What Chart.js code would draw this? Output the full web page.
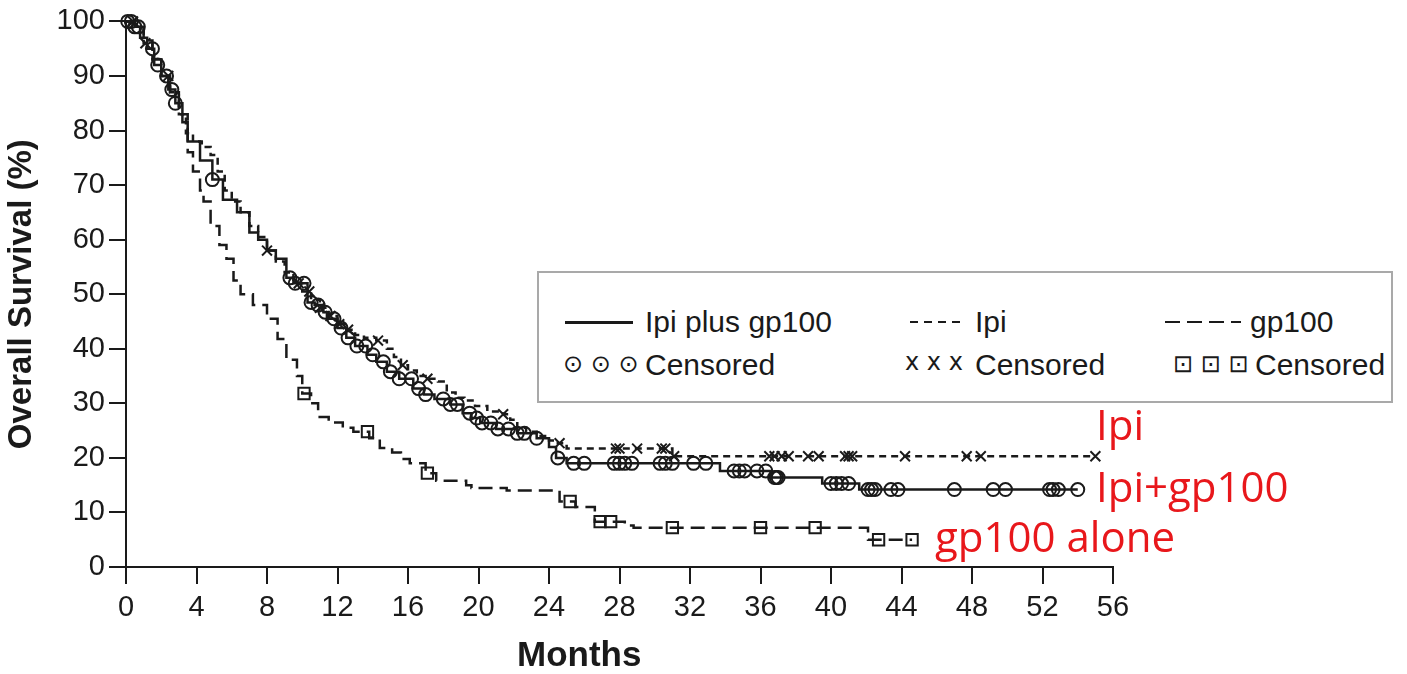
<!DOCTYPE html>
<html>
<head>
<meta charset="utf-8">
<script src="https://cdn.jsdelivr.net/npm/chart.js@4.4.1/dist/chart.umd.min.js"></script>
<style>
  body { margin: 0; background: #fff; }
  #wrap { position: relative; width: 1407px; height: 674px; font-family: "Liberation Sans", Arial, sans-serif; color: #1a1a1a; }
  #km { position: absolute; left: 0; top: 0; }
  .legend { position: absolute; left: 537px; top: 271px; width: 856px; height: 132px; box-sizing: border-box;
            border: 2px solid #a9a9a9; background: #fff; }
  .lt { position: absolute; font-size: 30px; line-height: 30px; white-space: nowrap; }
  .sym { position: absolute; font-size: 24px; line-height: 24px; white-space: nowrap; font-family: "DejaVu Sans", sans-serif; }
  .ln { position: absolute; height: 2px; }
  .note { position: absolute; font-family: "Open Sans", sans-serif; font-size: 42px; line-height: 42px; color: #e8171b; white-space: nowrap; }
  #xtitle { position: absolute; left: 517px; top: 636px; font-size: 35px; font-weight: bold; line-height: 35px; }
</style>
</head>
<body>
<div id="wrap">
  <canvas id="km" width="1407" height="674"></canvas>

  <div class="legend">
    <div class="ln" style="left:26px; top:48px; width:68px; background:#1a1a1a; height:2.5px;"></div>
    <div class="lt" style="left:106px; top:34px;">Ipi plus gp100</div>
    <div class="ln" style="left:371px; top:48px; width:56px; background:repeating-linear-gradient(90deg,#1a1a1a 0 8px,transparent 8px 14px);"></div>
    <div class="lt" style="left:436px; top:34px;">Ipi</div>
    <div class="ln" style="left:626px; top:48px; width:76px; background:repeating-linear-gradient(90deg,#1a1a1a 0 15px,transparent 15px 22px);"></div>
    <div class="lt" style="left:711px; top:34px;">gp100</div>

    <div class="sym" style="left:24px; top:79px;">⊙ ⊙ ⊙</div>
    <div class="lt" style="left:106px; top:77px;">Censored</div>
    <div class="sym" style="left:366px; top:77px;">x x x</div>
    <div class="lt" style="left:436px; top:77px;">Censored</div>
    <div class="sym" style="left:634px; top:79px;">⊡ ⊡ ⊡</div>
    <div class="lt" style="left:716px; top:77px;">Censored</div>
  </div>

  <div class="note" style="left:1096px; top:403px;">Ipi</div>
  <div class="note" style="left:1096px; top:465px;">Ipi+gp100</div>
  <div class="note" style="left:935px; top:515px;">gp100 alone</div>

  <div id="xtitle">Months</div>
</div>

<script>
// axis ticks
const xTicks = [0, 4, 8, 12, 16, 20, 24, 28, 32, 36, 40, 44, 48, 52, 56];
const yTicks = [0, 10, 20, 30, 40, 50, 60, 70, 80, 90, 100];

// Ipi plus gp100 (solid)
const ipiGpTime = [0, 0.5, 0.8, 1.2, 1.6, 2.0, 2.4, 2.8, 3.2, 3.5, 4.2, 4.9, 5.5, 6.3, 7.0, 7.5, 8.0, 8.5, 9.1, 9.5,
  10.3, 10.7, 11.2, 11.4, 12.0, 12.5, 13.0, 13.7, 14.2, 14.8, 15.5, 16.3, 16.9, 17.5, 18.4, 19.1, 19.6, 20.1, 21.0,
  22.2, 23.3, 24.0, 24.4, 25.0, 33.7, 36.6, 39.5, 41.6, 54.0];
const ipiGpSurv = [100, 99, 97, 95, 92, 90, 87.5, 85, 81.5, 78, 74.5, 71, 67.3, 65, 61.3, 60, 58, 56.5, 53, 52,
  48.5, 48, 46.7, 45.5, 43.8, 42, 40.5, 38.9, 37.6, 35.8, 34.5, 32.7, 31.6, 30.8, 29.8, 28.2, 27.3, 26.4, 25.3,
  24.5, 23.6, 22, 20, 19, 17.6, 16.4, 15.3, 14.2, 14.2];
const ipiGpCens = [0.1, 0.3, 0.5, 0.7, 1.5, 1.8, 2.3, 2.6, 2.8, 4.9, 9.3, 9.6, 10.1, 10.5, 10.9, 11.3, 11.8, 12.2,
  12.6, 13.1, 13.6, 14.0, 14.6, 15.0, 15.5, 16.2, 16.6, 17.0, 18.0, 18.4, 18.8, 19.5, 19.9, 20.2, 20.7, 21.1, 21.7,
  22.2, 22.6, 23.3, 24.5, 25.4, 26.0, 27.7, 28.0, 28.3, 28.7, 30.3, 30.6, 31.0, 32.2, 32.9, 34.5, 34.8, 35.1, 35.8,
  36.3, 36.8, 36.9, 37.0, 40.0, 40.3, 40.6, 41.0, 42.1, 42.3, 42.5, 43.4, 43.8, 47.0, 49.2, 49.9, 52.4, 52.6, 52.9, 54.0];

// Ipi (short dashes)
const ipiTime = [0, 0.6, 1.0, 1.5, 2.0, 2.5, 3.0, 3.4, 3.8, 4.3, 4.8, 5.2, 5.6, 6.0, 6.5, 7.0, 7.5, 8.0, 8.5, 9.0,
  9.5, 10.0, 10.5, 11.0, 11.5, 12.0, 12.5, 13.0, 13.5, 14.2, 14.8, 15.2, 15.6, 16.0, 16.5, 17.0, 17.7, 18.2, 18.7,
  19.2, 19.8, 20.5, 21.4, 21.8, 22.2, 22.7, 23.3, 24.0, 24.5, 25.0, 31.0, 55.0];
const ipiSurv = [100, 99, 96, 93, 90, 87, 83, 79.5, 78, 77, 75.5, 72.5, 69, 67, 65, 62.5, 60.5, 58, 56, 54,
  52, 50.5, 49, 47.5, 46, 44.5, 43.5, 42.5, 42, 41.5, 40, 38.5, 37, 36, 35, 34.5, 34, 32, 31,
  30.5, 29.5, 28.5, 28, 27, 25.5, 24.8, 24, 23.2, 22.7, 21.7, 20.3, 20.3];
const ipiCens = [0.4, 1.1, 2.4, 8.0, 9.8, 10.4, 11.0, 11.6, 12.1, 12.6, 14.3, 15.7, 17.1, 21.4, 24.6, 27.8, 28.0,
  29.0, 30.4, 30.6, 31.1, 36.5, 36.8, 37.2, 37.6, 38.7, 39.3, 40.8, 41.0, 41.2, 44.2, 47.7, 48.5, 55.0];

// gp100 (long dashes)
const gpTime = [0, 0.5, 1.0, 1.5, 2.0, 2.5, 3.0, 3.5, 3.8, 4.2, 4.4, 4.8, 5.3, 5.7, 6.1, 6.5, 7.2, 8.0, 8.6, 9.1,
  9.7, 10.0, 10.5, 10.9, 11.5, 12.3, 12.9, 13.8, 14.4, 15.1, 15.6, 16.1, 17.0, 17.6, 19.3, 19.6, 21.6, 24.6, 25.5,
  26.6, 28.3, 28.8, 42.1, 44.6];
const gpSurv = [100, 99, 96.5, 93, 90, 87, 83, 76, 72.5, 69, 67, 62.5, 59, 56.5, 52.5, 50, 48, 45.5, 41.8, 38,
  35, 31.8, 30, 27.5, 26.5, 25.5, 24.8, 23.6, 21.8, 21, 19.8, 19, 17.2, 15.8, 15, 14.5, 14, 12, 11,
  8.3, 7.6, 7.2, 5.0, 5.0];
const gpCens = [10.1, 13.7, 17.1, 25.2, 26.9, 27.5, 31.0, 36.0, 39.1, 42.7, 44.6];

const ink = '#1a1a1a';

function toXY(times, surv) {
  return times.map((t, i) => ({ x: t, y: surv[i] }));
}
// survival level of a curve at time t (last step at or before t)
function survAt(times, surv, t) {
  let v = surv[0];
  for (let i = 0; i < times.length; i++) {
    if (times[i] <= t) v = surv[i];
  }
  return v;
}
function censPoints(cens, times, surv) {
  return cens.map(t => ({ x: t, y: survAt(times, surv, t) }));
}

const curve = (label, times, surv, dash) => ({
  label: label,
  data: toXY(times, surv),
  borderColor: ink,
  borderWidth: 2.5,
  borderDash: dash,
  stepped: true,
  pointRadius: 0,
  fill: false,
  clip: false
});
const marks = (label, pts, style, r) => ({
  label: label,
  data: pts,
  showLine: false,
  pointStyle: style,
  pointRadius: r,
  pointBorderColor: ink,
  pointBackgroundColor: 'rgba(0,0,0,0)',
  pointBorderWidth: 2,
  clip: false
});

const ctx = document.getElementById('km').getContext('2d');
new Chart(ctx, {
  type: 'line',
  data: {
    datasets: [
      curve('Ipi plus gp100', ipiGpTime, ipiGpSurv, []),
      curve('Ipi', ipiTime, ipiSurv, [7, 5]),
      curve('gp100', gpTime, gpSurv, [14, 7]),
      marks('Ipi plus gp100 censored', censPoints(ipiGpCens, ipiGpTime, ipiGpSurv), 'circle', 6.5),
      marks('Ipi censored', censPoints(ipiCens, ipiTime, ipiSurv), 'crossRot', 7),
      marks('gp100 censored', censPoints(gpCens, gpTime, gpSurv), 'rect', 8)
    ]
  },
  options: {
    responsive: false,
    animation: false,
    layout: { padding: { top: 17, right: 294, bottom: 0, left: 0 } },
    plugins: { legend: { display: false }, tooltip: { enabled: false } },
    scales: {
      x: {
        type: 'linear',
        min: 0,
        max: 56,
        afterBuildTicks: a => { a.ticks = xTicks.map(v => ({ value: v })); },
        afterFit: s => { s.height = 107; },
        ticks: { font: { size: 29, family: 'Liberation Sans' }, color: ink, padding: 7, maxRotation: 0, autoSkip: false },
        grid: { drawOnChartArea: false, tickLength: 17, color: ink, lineWidth: 2 },
        border: { color: ink, width: 2 }
      },
      y: {
        min: 0,
        max: 100,
        afterBuildTicks: a => { a.ticks = yTicks.map(v => ({ value: v })); },
        afterFit: s => { s.width = 126; },
        ticks: { font: { size: 29, family: 'Liberation Sans' }, color: ink, padding: 4 },
        grid: { drawOnChartArea: false, tickLength: 17, color: ink, lineWidth: 2 },
        border: { color: ink, width: 2 },
        title: {
          display: true,
          text: 'Overall Survival (%)',
          color: ink,
          font: { size: 33, weight: 'bold', family: 'Liberation Sans' },
          padding: { top: 2, bottom: 0 }
        }
      }
    }
  }
});
</script>
</body>
</html>
